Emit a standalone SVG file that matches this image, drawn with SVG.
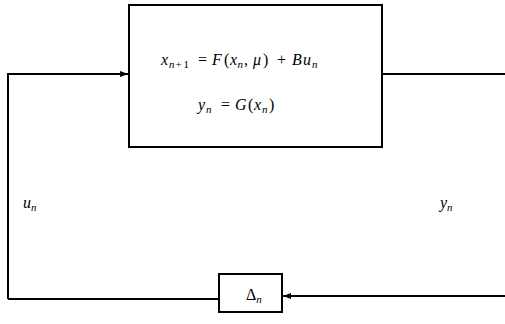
<svg xmlns="http://www.w3.org/2000/svg" width="505" height="324" viewBox="0 0 505 324">
<defs>
<style>
.box{fill:#fff;stroke:#000;stroke-width:2}
.ln{fill:none;stroke:#000;stroke-width:2}
.t{font-family:"Liberation Serif","DejaVu Serif",serif;font-size:16px;fill:#000}
.i{font-style:italic}
.s{font-size:11px;font-style:italic}
.r{font-style:normal}
</style>
<marker id="ah" viewBox="0 0 8 6" refX="8" refY="3" markerWidth="4" markerHeight="3" orient="auto" markerUnits="strokeWidth">
<path d="M0,0 L8,3 L0,6 z" fill="#000"/>
</marker>
</defs>
<g id="connectors">
<path class="ln" d="M8,299 L8,74 L128,74" marker-end="url(#ah)"/>
<path class="ln" d="M382,74 L505,74"/>
<path class="ln" d="M505,296 L283,296" marker-end="url(#ah)"/>
<path class="ln" d="M8,299 L219,299"/>
</g>
<g id="system">
<rect class="box" x="129" y="5" width="253" height="142"/>
<text class="t" y="65"><tspan class="i" x="161">x</tspan><tspan class="s" x="169" dy="3">n</tspan><tspan class="s r" x="175.5">+</tspan><tspan class="s r" x="183.5">1</tspan><tspan x="198" dy="-3">=</tspan><tspan class="i" x="212">F</tspan><tspan x="224">(</tspan><tspan class="i" x="230">x</tspan><tspan class="s" x="237.5" dy="3">n</tspan><tspan x="244" dy="-3">,</tspan><tspan class="i" x="253">μ</tspan><tspan x="263">)</tspan><tspan x="277">+</tspan><tspan class="i" x="292">B</tspan><tspan class="i" x="303">u</tspan><tspan class="s" x="312" dy="3">n</tspan></text>
<text class="t" y="110"><tspan class="i" x="198">y</tspan><tspan class="s" x="206" dy="3">n</tspan><tspan x="221" dy="-3">=</tspan><tspan class="i" x="235">G</tspan><tspan x="248">(</tspan><tspan class="i" x="254">x</tspan><tspan class="s" x="262" dy="3">n</tspan><tspan x="269" dy="-3">)</tspan></text>
</g>
<g id="delta">
<rect class="box" x="219" y="274" width="63" height="38"/>
<text class="t" x="246" y="300">Δ<tspan class="s" dy="3">n</tspan></text>
</g>
<g id="label-u">
<text class="t" x="23" y="208"><tspan class="i">u</tspan><tspan class="s" dy="3">n</tspan></text>
</g>
<g id="label-y">
<text class="t" x="440" y="208"><tspan class="i">y</tspan><tspan class="s" dy="3">n</tspan></text>
</g>
</svg>
